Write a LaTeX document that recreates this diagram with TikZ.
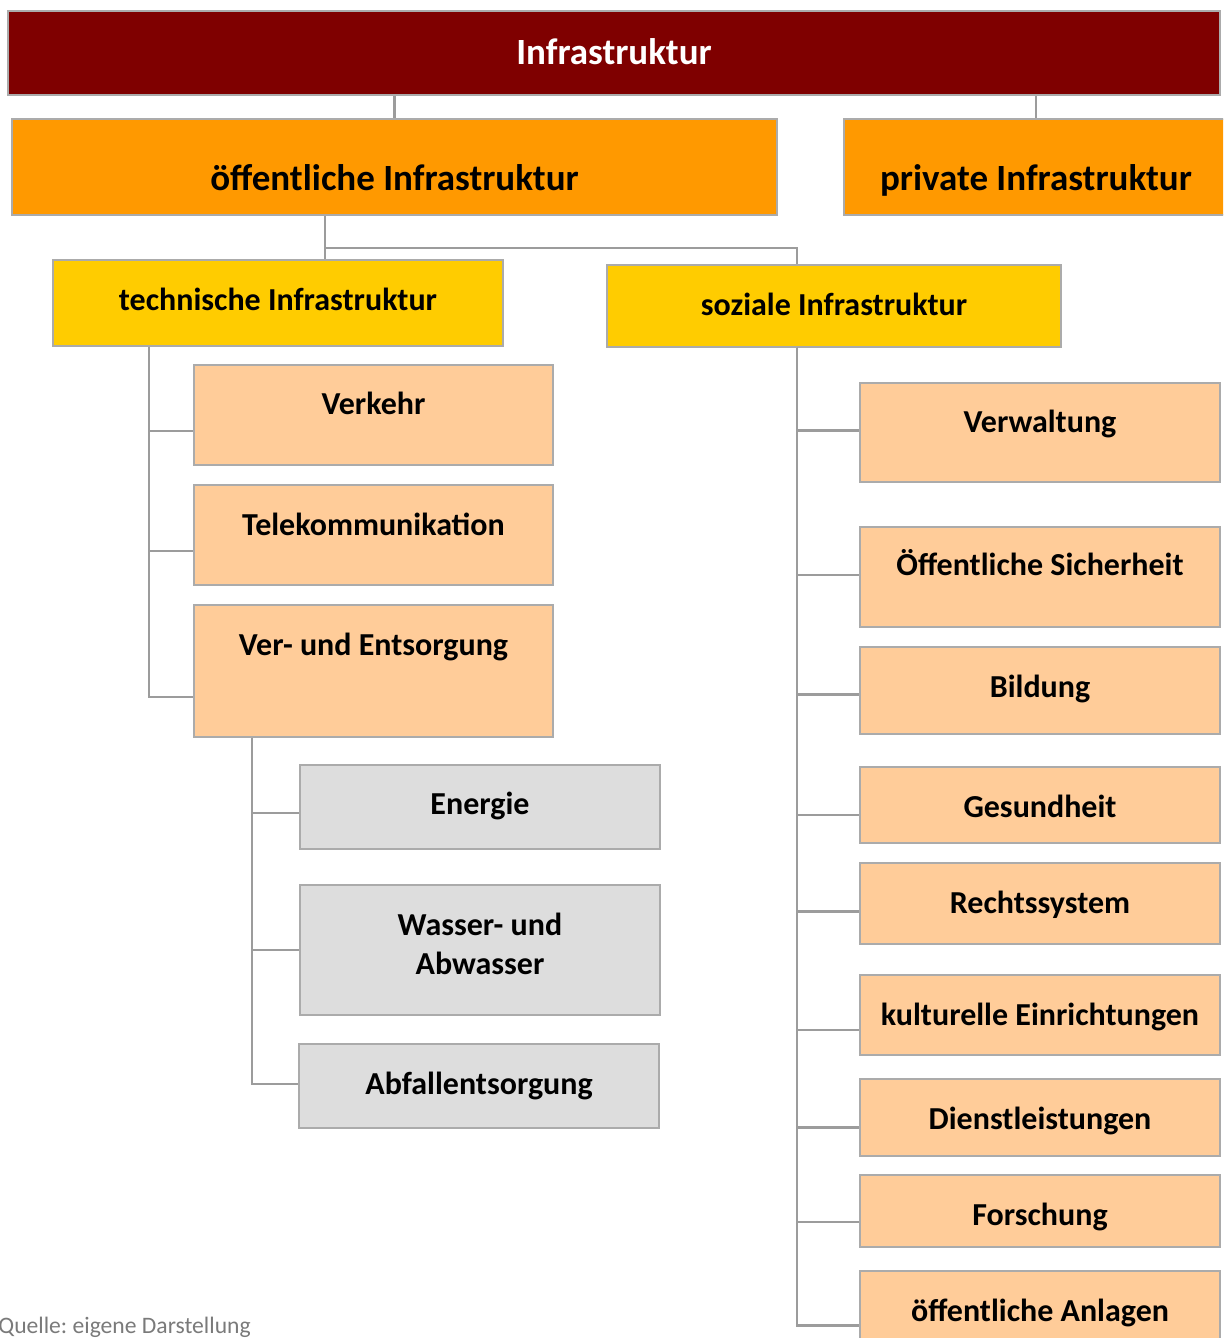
\documentclass[tikz,border=0pt]{standalone}
\usepackage{fontspec}
\setmainfont{Carlito}
\usetikzlibrary{fit}
\frenchspacing

\definecolor{titelrot}{HTML}{7F0000}
\definecolor{orangeI}{HTML}{FF9900}
\definecolor{gelb}{HTML}{FFCC00}
\definecolor{pfirsich}{HTML}{FFCC99}
\definecolor{hellgrau}{HTML}{DDDDDD}
\definecolor{linie}{HTML}{9C9C9C}
\definecolor{rand}{HTML}{ABABAB}

\tikzset{
  kasten/.style={rectangle, draw=rand, line width=0.6pt, inner sep=0pt},
  txtgross/.style={anchor=base, inner sep=0pt, font=\fontsize{18.5}{22}\selectfont\bfseries},
  txt/.style={anchor=base, inner sep=0pt, align=center, font=\fontsize{16}{19.5}\selectfont\bfseries},
  conn/.style={draw=linie, line width=1.1pt}
}

\begin{document}
\begin{tikzpicture}[x=0.5pt, y=-0.5pt]
    \useasboundingbox (0,0) rectangle (1223,1338);
    \clip (0,0) rectangle (1223,1338);

    % Ebene 1 und 2
    \node[kasten, fill=titelrot, fit={(8,11) (1220,95)}] (titel) {};
    \node[kasten, fill=orangeI, fit={(12,119) (777,215)}] (oeff) {};
    \node[kasten, fill=orangeI, fit={(844,119) (1228,215)}] (priv) {};
    \node[txtgross, text=white] (titelT) at (614,65) {Infrastruktur};
    \node[txtgross] (oeffT) at (394.5,190) {öffentliche Infrastruktur};
    \node[txtgross] (privT) at (1036,190) {private Infrastruktur};

    % Ebene 3
    \node[kasten, fill=gelb, fit={(53,260) (503,346)}] (tech) {};
    \node[kasten, fill=gelb, fit={(607,265) (1061,347)}] (sozial) {};
    \node[txt] (techT) at (278,310) {technische Infrastruktur};
    \node[txt] (sozialT) at (834,315) {soziale Infrastruktur};

    % technische Infrastruktur
    \node[kasten, fill=pfirsich, fit={(194,365) (553,465)}] (verkehr) {};
    \node[kasten, fill=pfirsich, fit={(194,485) (553,585)}] (telekom) {};
    \node[kasten, fill=pfirsich, fit={(194,605) (553,737)}] (verent) {};
    \node[txt] (verkehrT) at (373.5,414) {Verkehr};
    \node[txt] (telekomT) at (373.5,535) {Telekommunikation};
    \node[txt] (verentT) at (373.5,655) {Ver- und Entsorgung};

    \node[kasten, fill=hellgrau, fit={(300,765) (660,849)}] (energie) {};
    \node[kasten, fill=hellgrau, fit={(300,885) (660,1015)}] (wasser) {};
    \node[kasten, fill=hellgrau, fit={(299,1044) (659,1128)}] (abfall) {};
    \node[txt] (energieT) at (480,814) {Energie};
    \node[txt] (wasserT) at (480,974) {Wasser- und\\Abwasser};
    \node[txt] (abfallT) at (479,1094) {Abfallentsorgung};

    % soziale Infrastruktur
    \node[kasten, fill=pfirsich, fit={(860,383) (1220,482)}] (verwaltung) {};
    \node[kasten, fill=pfirsich, fit={(860,527) (1220,627)}] (sicherheit) {};
    \node[kasten, fill=pfirsich, fit={(860,647) (1220,734)}] (bildung) {};
    \node[kasten, fill=pfirsich, fit={(860,767) (1220,843)}] (gesundheit) {};
    \node[kasten, fill=pfirsich, fit={(860,863) (1220,944)}] (recht) {};
    \node[kasten, fill=pfirsich, fit={(860,975) (1220,1055)}] (kultur) {};
    \node[kasten, fill=pfirsich, fit={(860,1079) (1220,1156)}] (dienst) {};
    \node[kasten, fill=pfirsich, fit={(860,1175) (1220,1247)}] (forschung) {};
    \node[kasten, fill=pfirsich, fit={(860,1271) (1220,1380)}] (anlagen) {};
    \node[txt] (verwaltungT) at (1040,432) {Verwaltung};
    \node[txt] (sicherheitT) at (1040,575) {Öffentliche Sicherheit};
    \node[txt] (bildungT) at (1040,697) {Bildung};
    \node[txt] (gesundheitT) at (1040,817) {Gesundheit};
    \node[txt] (rechtT) at (1040,913) {Rechtssystem};
    \node[txt] (kulturT) at (1040,1025) {kulturelle Einrichtungen};
    \node[txt] (dienstT) at (1040,1129) {Dienstleistungen};
    \node[txt] (forschungT) at (1040,1225) {Forschung};
    \node[txt] (anlagenT) at (1040,1321) {öffentliche Anlagen};

    \node[anchor=base west, inner sep=0pt, text=black!52, font=\fontsize{11.8}{14}\selectfont] (quelle) at (-2,1333) {Quelle: eigene Darstellung};

    % Verbindungen
    \coordinate (split) at (325,248);
    \coordinate (ltrunk) at (149,0);
    \coordinate (strunk) at (252,0);
    \coordinate (rtrunk) at (797,0);

    \draw[conn] (titel.south -| oeff.north) -- (oeff.north);
    \draw[conn] (titel.south -| priv.north) -- (priv.north);
    \draw[conn] (oeff.south -| split) -- (split) -| (sozial.north -| rtrunk);
    \draw[conn] (split) -- (tech.north -| split);

    \foreach \n/\d in {verkehr/-8pt, telekom/-8pt, verent/-13pt}
        \draw[conn] (tech.south -| ltrunk) |- ([yshift=\d]\n.west);
    \foreach \n/\d in {energie/-3pt, wasser/0pt, abfall/1pt}
        \draw[conn] (verent.south -| strunk) |- ([yshift=\d]\n.west);
    \foreach \n/\d in {verwaltung/1pt, sicherheit/1pt, bildung/-2pt, gesundheit/-5pt, recht/-4pt, kultur/-7.5pt, dienst/-5pt, forschung/-5.5pt, anlagen/0pt}
        \draw[conn] (sozial.south -| rtrunk) |- ([yshift=\d]\n.west);

\end{tikzpicture}
\end{document}
